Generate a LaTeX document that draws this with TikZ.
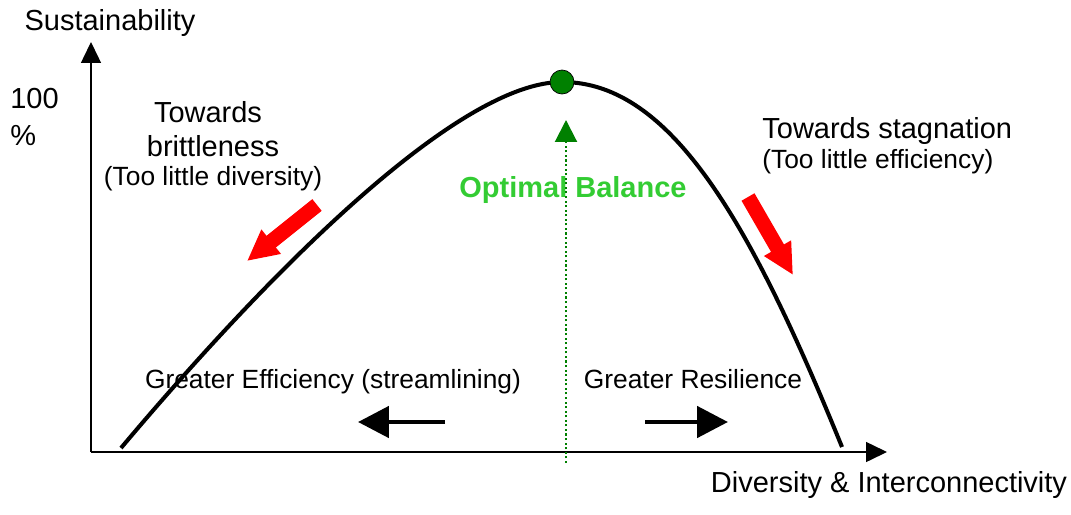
\documentclass[tikz,border=0pt]{standalone}
\usepackage{fontspec}
\setmainfont{Liberation Sans}
\usetikzlibrary{arrows.meta}
\definecolor{dotgreen}{RGB}{0,128,0}
\definecolor{labelgreen}{RGB}{51,204,51}
\tikzset{
    lbl/.style={inner sep=0pt, anchor=base, font=\fontsize{16.5}{20}\selectfont},
    sublbl/.style={inner sep=0pt, anchor=base, font=\fontsize{15}{18}\selectfont},
    axis/.style={line width=0.85pt, -{Triangle[length=0.42cm, width=0.4cm]}},
    redarrow/.style={red, line width=8.5pt, -{Triangle[length=0.62cm, width=0.58cm]}},
    blackarrow/.style={line width=2.8pt, -{Triangle[length=0.62cm, width=0.62cm]}},
}
\begin{document}
\begin{tikzpicture}[x=0.02cm, y=-0.02cm]
    \useasboundingbox (0, 0) rectangle (1071, 514);
    % axes
    \coordinate (origin) at (91, 452);
    \coordinate (ytip) at (91, 42);
    \coordinate (xtip) at (887, 452);
    \draw[axis] (origin) -- (ytip);
    \draw[axis] (origin) -- (xtip);
    \node[lbl] (ylabel) at (110, 30) {Sustainability};
    \node[lbl, anchor=base west] (hundred) at (10, 108) {100};
    \node[lbl, anchor=base west] (percent) at (10, 145) {\%};
    \node[lbl] (xlabel) at (889, 492) {Diversity \& Interconnectivity};
    % curve
    \coordinate (start) at (121, 448);
    \coordinate (top) at (562, 82);
    \coordinate (end) at (842, 447);
    \draw[line width=2.3pt] (start) .. controls (281, 258) and (462, 82) .. (top)
        .. controls (672, 82) and (752, 226) .. (end);
    % optimum
    \node[lbl, text=labelgreen, font=\fontsize{16.5}{20}\selectfont\bfseries] (optimal) at (573, 197) {Optimal Balance};
    \coordinate (dotfoot) at (566, 463);
    \coordinate (dottip) at (566, 120);
    \draw[dotgreen, line width=1.2pt, dash pattern=on 1.2pt off 1.4pt, -{Triangle[length=0.44cm, width=0.44cm]}] (dotfoot) -- (dottip);
    \node[circle, draw, fill=dotgreen, minimum size=0.48cm, inner sep=0pt] (peak) at (top) {};
    % left side
    \node[lbl] (towardsl) at (208, 122) {Towards};
    \node[lbl] (brittle) at (213, 156) {brittleness};
    \node[sublbl] (diversity) at (213, 185) {(Too little diversity)};
    \coordinate (brittletail) at (317, 205);
    \coordinate (brittletip) at (247, 261);
    \draw[redarrow] (brittletail) -- (brittletip);
    % right side
    \node[lbl, anchor=base west] (towardsr) at (762, 138) {Towards stagnation};
    \node[sublbl, anchor=base west] (efficiency) at (762, 168) {(Too little efficiency)};
    \coordinate (stagtail) at (748, 197);
    \coordinate (stagtip) at (793, 275);
    \draw[redarrow] (stagtail) -- (stagtip);
    % bottom
    \node[sublbl] (greatereff) at (333, 388) {Greater Efficiency (streamlining)};
    \node[sublbl] (greaterres) at (693, 388) {Greater Resilience};
    \coordinate (efftail) at (445, 422);
    \coordinate (efftip) at (358, 422);
    \coordinate (restail) at (645, 422);
    \coordinate (restip) at (728, 422);
    \draw[blackarrow] (efftail) -- (efftip);
    \draw[blackarrow] (restail) -- (restip);
\end{tikzpicture}
\end{document}
